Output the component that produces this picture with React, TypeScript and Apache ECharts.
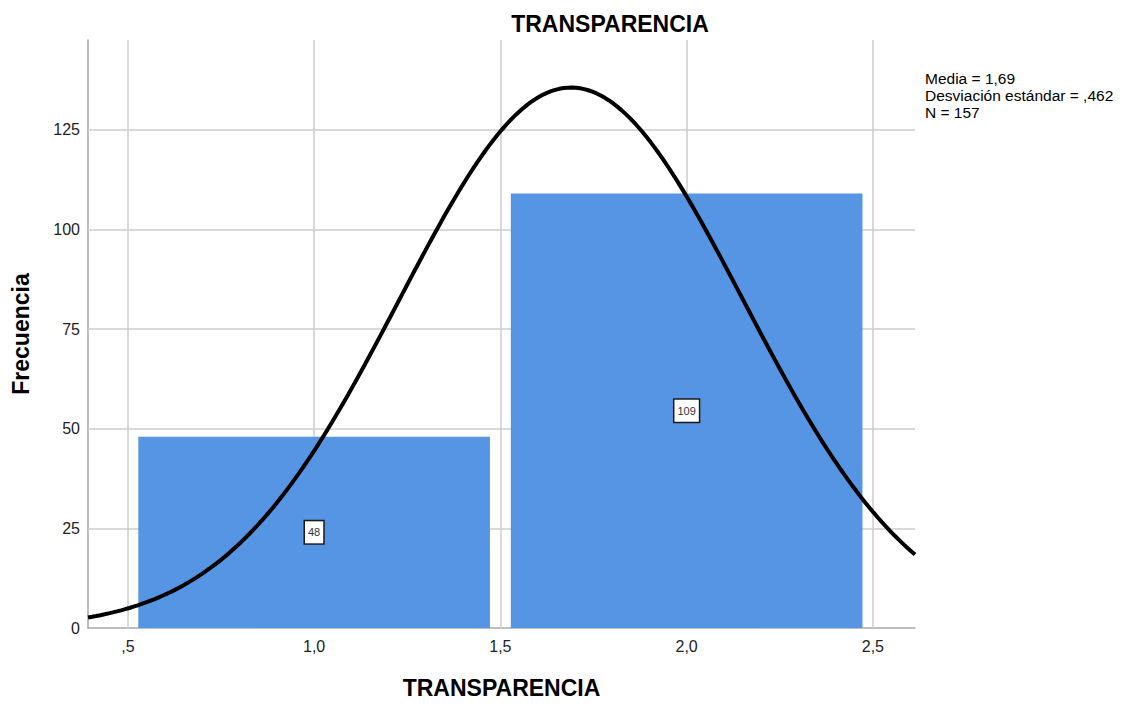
import React, { useEffect, useRef } from "react";
import * as echarts from "echarts";

const chartTitle = "TRANSPARENCIA";
const xName = "TRANSPARENCIA";
const yName = "Frecuencia";
const binCenters = [1.0, 2.0];
const binCounts = [48, 109];
const binHalfWidth = 0.472;
const mean = 1.69;
const sd = 0.462;
const n = 157;
const binWidth = 1;
const xTicks = [0.5, 1.0, 1.5, 2.0, 2.5];
const yTicks = [0, 25, 50, 75, 100, 125];
const xMin = 0.393;
const xMax = 2.613;
const yMax = 147.5;
const legendLines = ["Media = 1,69", "Desviación estándar = ,462", "N = 157"];

const FONT = "'Liberation Sans', Arial, sans-serif";

function fmtX(v: number) {
  return v.toFixed(1).replace(".", ",").replace(/^0/, "");
}

export default function App() {
  const ref = useRef<HTMLDivElement>(null);
  useEffect(() => {
    if (!ref.current) return;
    const chart = echarts.init(ref.current, undefined, { renderer: "svg" });

    const curve: number[][] = [];
    const steps = 200;
    for (let i = 0; i <= steps; i++) {
      const x = xMin + ((xMax - xMin) * i) / steps;
      const z = (x - mean) / sd;
      const y = (n * binWidth * Math.exp(-0.5 * z * z)) / (sd * Math.sqrt(2 * Math.PI));
      curve.push([x, y]);
    }

    const bars = binCenters.map((c, i) => [c, binCounts[i]]);

    chart.setOption({
      animation: false,
      textStyle: { fontFamily: FONT },
      title: {
        text: chartTitle,
        left: 605,
        textAlign: "center",
        top: 7,
        textStyle: { fontFamily: FONT, fontSize: 23, fontWeight: "bold", color: "#000" },
      },
      grid: { left: 88, right: 217, top: 40, bottom: 79, containLabel: false },
      xAxis: {
        type: "value",
        min: xMin,
        max: xMax,
        name: xName,
        nameLocation: "middle",
        nameGap: 48,
        nameTextStyle: { fontFamily: FONT, fontSize: 23, fontWeight: "bold", color: "#000" },
        axisLine: { show: true, lineStyle: { color: "#a8a8a8", width: 1.5 } },
        axisTick: { show: false, customValues: xTicks },
        splitLine: { show: false },
        axisLabel: {
          customValues: xTicks,
          formatter: (v: number) => fmtX(v),
          fontFamily: FONT,
          fontSize: 16,
          color: "#222",
          margin: 10,
        },
      },
      yAxis: {
        type: "value",
        min: 0,
        max: yMax,
        name: yName,
        nameLocation: "middle",
        nameGap: 56,
        nameRotate: 90,
        nameTextStyle: { fontFamily: FONT, fontSize: 23, fontWeight: "bold", color: "#000" },
        axisLine: { show: true, lineStyle: { color: "#a8a8a8", width: 1.5 } },
        axisTick: { show: false, customValues: yTicks },
        splitLine: { show: false },
        axisLabel: {
          customValues: yTicks,
          fontFamily: FONT,
          fontSize: 16,
          color: "#222",
          margin: 8,
        },
      },
      graphic: legendLines.map((t, i) => ({
        type: "text",
        left: 925,
        top: 70 + i * 17,
        style: { text: t, font: `15.5px ${FONT}`, fill: "#000" },
      })),
      series: [
        {
          type: "line",
          data: [],
          z: 1,
          silent: true,
          markLine: {
            silent: true,
            symbol: ["none", "none"],
            label: { show: false },
            lineStyle: { color: "#cdcdcd", width: 1.5, type: "solid" },
            data: [
              ...xTicks.map((v) => ({ xAxis: v })),
              ...yTicks.filter((v) => v > 0).map((v) => ({ yAxis: v })),
            ],
          },
        },
        {
          type: "custom",
          z: 10,
          data: bars,
          renderItem: (params: any, api: any) => {
            const c = api.value(0);
            const v = api.value(1);
            const p0 = api.coord([c - binHalfWidth, v]);
            const p1 = api.coord([c + binHalfWidth, 0]);
            const mid = api.coord([c, v / 2]);
            return {
              type: "group",
              children: [
                {
                  type: "rect",
                  shape: { x: p0[0], y: p0[1], width: p1[0] - p0[0], height: p1[1] - p0[1] },
                  style: { fill: "#5595E3" },
                },
                {
                  type: "text",
                  x: mid[0],
                  y: mid[1],
                  style: {
                    text: String(v),
                    font: `11px ${FONT}`,
                    fill: "#333",
                    align: "center",
                    verticalAlign: "middle",
                    backgroundColor: "#fff",
                    borderColor: "#1a1a1a",
                    borderWidth: 1.5,
                    padding: [6, 3, 5, 3],
                  },
                },
              ],
            };
          },
        },
        {
          type: "line",
          z: 12,
          data: curve,
          showSymbol: false,
          symbol: "none",
          smooth: false,
          lineStyle: { color: "#000", width: 4 },
          silent: true,
        },
      ],
    });

    return () => chart.dispose();
  }, []);

  return <div ref={ref} style={{ width: 1132, height: 707, marginLeft: -8, marginTop: -8 }} />;
}
